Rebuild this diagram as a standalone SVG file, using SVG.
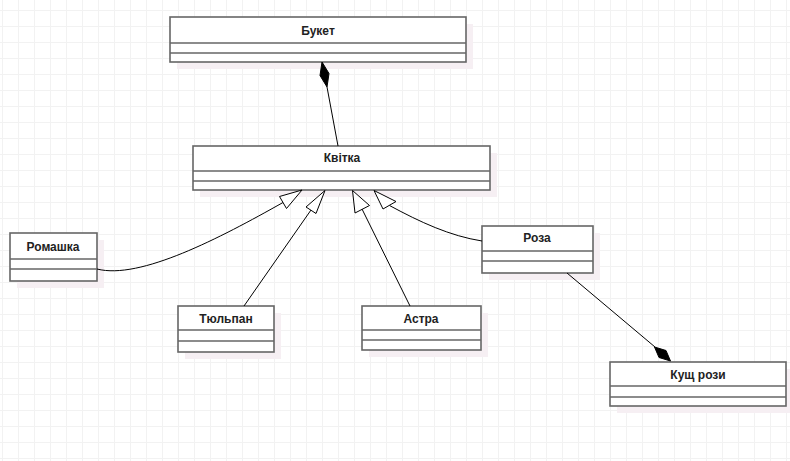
<svg xmlns="http://www.w3.org/2000/svg" width="790" height="461" viewBox="0 0 790 461">
  <defs>
    <pattern id="grid" x="2" y="10" width="16" height="16" patternUnits="userSpaceOnUse">
      <path d="M0,0.5 H16 M0.5,0 V16" fill="none" stroke="#f2f2f2" stroke-width="1"/>
    </pattern>
    <style>
      .shadow { fill: #f6eff3; }
      .box { fill: #ffffff; stroke: #666666; stroke-width: 1.6; }
      .div { stroke: #666666; stroke-width: 1.6; }
      .label { font-family: "Liberation Sans", Arial, sans-serif; font-size: 12px; font-weight: bold; fill: #222222; text-anchor: middle; }
      .conn { fill: none; stroke: #000000; stroke-width: 1; }
      .hollow { fill: #ffffff; stroke: #000000; stroke-width: 1; }
      .filled { fill: #000000; stroke: #000000; stroke-width: 1; }
    </style>
  </defs>
  <rect width="790" height="461" fill="#ffffff"/>
  <rect width="790" height="461" fill="url(#grid)"/>

  <g id="buket">
    <rect class="shadow" x="177" y="24" width="296" height="45"/>
    <rect class="box" x="170" y="17" width="296" height="45"/>
    <line class="div" x1="170" y1="43" x2="466" y2="43"/>
    <line class="div" x1="170" y1="53" x2="466" y2="53"/>
    <text class="label" x="318" y="35">Букет</text>
  </g>

  <g id="kvitka">
    <rect class="shadow" x="200" y="153" width="297" height="44"/>
    <rect class="box" x="193" y="146" width="297" height="44"/>
    <line class="div" x1="193" y1="171" x2="490" y2="171"/>
    <line class="div" x1="193" y1="181" x2="490" y2="181"/>
    <text class="label" x="342" y="162">Квітка</text>
  </g>

  <g id="romashka">
    <rect class="shadow" x="17" y="240" width="87" height="48"/>
    <rect class="box" x="10" y="233" width="87" height="48"/>
    <line class="div" x1="10" y1="259" x2="97" y2="259"/>
    <line class="div" x1="10" y1="269" x2="97" y2="269"/>
    <text class="label" x="53" y="251">Ромашка</text>
  </g>

  <g id="roza">
    <rect class="shadow" x="489" y="233" width="111" height="47"/>
    <rect class="box" x="482" y="226" width="111" height="47"/>
    <line class="div" x1="482" y1="251" x2="593" y2="251"/>
    <line class="div" x1="482" y1="261" x2="593" y2="261"/>
    <text class="label" x="537" y="242">Роза</text>
  </g>

  <g id="tyulpan">
    <rect class="shadow" x="185" y="313" width="96" height="46"/>
    <rect class="box" x="178" y="306" width="96" height="46"/>
    <line class="div" x1="178" y1="330" x2="274" y2="330"/>
    <line class="div" x1="178" y1="341" x2="274" y2="341"/>
    <text class="label" x="226" y="323">Тюльпан</text>
  </g>

  <g id="astra">
    <rect class="shadow" x="369" y="313" width="119" height="44"/>
    <rect class="box" x="362" y="306" width="119" height="44"/>
    <line class="div" x1="362" y1="330" x2="481" y2="330"/>
    <line class="div" x1="362" y1="340" x2="481" y2="340"/>
    <text class="label" x="421" y="323">Астра</text>
  </g>

  <g id="kushch-rozy">
    <rect class="shadow" x="617" y="369" width="176" height="44"/>
    <rect class="box" x="610" y="362" width="176" height="44"/>
    <line class="div" x1="610" y1="386" x2="786" y2="386"/>
    <line class="div" x1="610" y1="397" x2="786" y2="397"/>
    <text class="label" x="698" y="379">Кущ рози</text>
  </g>

  <g id="connectors">
    <path class="conn" d="M327,87 L338,146"/>
    <polygon class="filled" points="322,62 320,75.5 327,87 329,73.5"/>
    <path class="conn" d="M97,269 C140,280 220,238 283,202.5"/>
    <polygon class="hollow" points="302,190 279.5,196.5 286.5,208.5"/>
    <path class="conn" d="M244,306 L311,210"/>
    <polygon class="hollow" points="325,190.5 306,207 316,213.5"/>
    <path class="conn" d="M410,306 L362,209"/>
    <polygon class="hollow" points="352.5,190.5 355,213 369.5,205.5"/>
    <path class="conn" d="M482,241 C450,236 420,222 389.5,205.5"/>
    <polygon class="hollow" points="374,190.5 383,209 396,201.5"/>
    <path class="conn" d="M567,273 L655,347"/>
    <polygon class="filled" points="670.5,361 666,350.5 654.5,347 659,357.5"/>
  </g>
</svg>
